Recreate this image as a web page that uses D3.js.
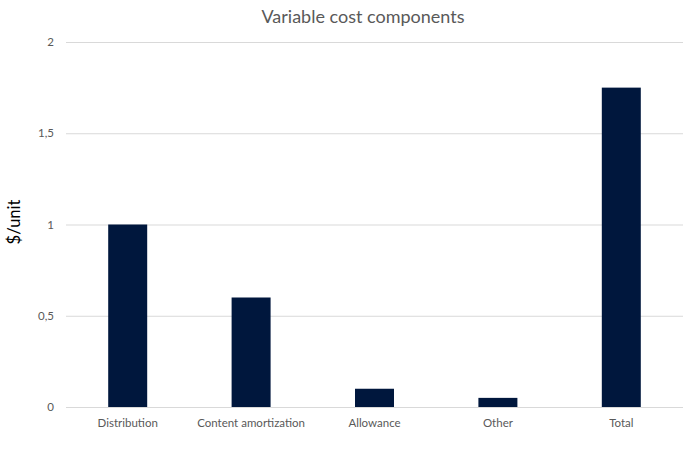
<!DOCTYPE html>
<html>
<head>
  <meta charset='utf-8'>
  <title>Variable cost components</title>
  <script src="https://cdnjs.cloudflare.com/ajax/libs/d3/7.8.5/d3.min.js"></script>
  <style>
    html, body { margin: 0; padding: 0; background: #fff; }
    svg { display: block; font-family: Lato, 'Open Sans', sans-serif; }
  </style>
</head>
<body>
  <svg id="chart"></svg>
  <script>
    // data
    const categories = ["Distribution", "Content amortization", "Allowance", "Other", "Total"];
    const values = [1.0, 0.6, 0.1, 0.05, 1.75];
    const yTicks = [0, 0.5, 1, 1.5, 2];

    const width = 700;
    const height = 463;
    const margin = { top: 42, right: 17, bottom: 56, left: 66 };

    const svg = d3.select('#chart')
      .attr('width', width)
      .attr('height', height);

    const x = d3.scaleBand()
      .domain(categories)
      .range([margin.left, width - margin.right])
      .paddingInner(0.684)
      .paddingOuter(0.342);

    const y = d3.scaleLinear()
      .domain([0, 2])
      .range([height - margin.bottom, margin.top]);

    const fmt = d => String(d).replace('.', ',');

    // gridlines + y tick labels
    const yAxis = d3.axisLeft(y)
      .tickValues(yTicks)
      .tickFormat(fmt)
      .tickSize(-(width - margin.left - margin.right))
      .tickPadding(12);

    svg.append('g')
      .attr('transform', `translate(${margin.left},0)`)
      .call(yAxis)
      .call(g => g.select('.domain').remove())
      .call(g => g.selectAll('line').attr('stroke', '#d9d9d9'))
      .call(g => g.selectAll('text').attr('fill', '#595959').attr('font-size', 11.5).style('font-family', 'Lato, sans-serif'));

    // bars
    svg.append('g')
      .selectAll('rect')
      .data(categories)
      .join('rect')
      .attr('x', d => x(d))
      .attr('width', x.bandwidth())
      .attr('y', (d, i) => y(values[i]))
      .attr('height', (d, i) => y(0) - y(values[i]))
      .attr('fill', '#00173d');

    // category labels
    const xAxis = d3.axisBottom(x).tickSize(0).tickPadding(12);
    svg.append('g')
      .attr('transform', `translate(0,${y(0)})`)
      .call(xAxis)
      .call(g => g.select('.domain').remove())
      .call(g => g.selectAll('text').attr('fill', '#595959').attr('font-size', 11.5).style('font-family', 'Lato, sans-serif'));

    // title
    svg.append('text')
      .attr('x', 363)
      .attr('y', 23)
      .attr('text-anchor', 'middle')
      .attr('fill', '#595959')
      .attr('font-size', 18)
      .text('Variable cost components');

    // y axis label
    svg.append('text')
      .attr('transform', 'translate(20,222) rotate(-90)')
      .attr('text-anchor', 'middle')
      .attr('fill', '#000')
      .attr('font-size', 16.5)
      .text('$/unit');
  </script>
</body>
</html>
